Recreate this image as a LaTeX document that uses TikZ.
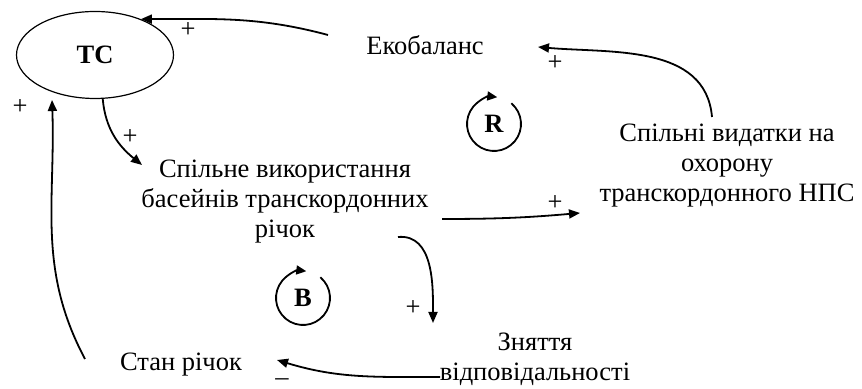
\documentclass[tikz,border=0pt]{standalone}
\usepackage{fontspec}
\setmainfont{Liberation Serif}
\usepackage{tikz}
\usetikzlibrary{arrows.meta,shapes.geometric,calc}

\begin{document}
\begin{tikzpicture}[x=0.5pt,y=0.5pt,
  t/.style={align=center,inner sep=0pt,font=\fontsize{13.25}{15}\selectfont},
  sgn/.style={inner sep=0pt,font=\fontsize{13.25}{15}\selectfont},
  loopsym/.style={inner sep=0pt,font=\fontsize{13.25}{15}\selectfont\bfseries},
  arrow/.style={-{Triangle[length=5.5pt,width=4.5pt]},line width=0.9pt},
  looparc/.style={-{Triangle[length=5pt,width=4.5pt]},line width=0.9pt}
]
  \useasboundingbox (0,0) rectangle (862,389);
  \node[ellipse,draw,line width=0.6pt,minimum width=78.5pt,minimum height=43.5pt,inner sep=0pt,
        font=\fontsize{13.25}{15}\selectfont\bfseries] (tc) at (95,334) {ТС};
  \node[t] (eko) at (425,344) {Екобаланс};
  \node[t] (vyd) at (727,223) {Спільні видатки на\\охорону\\транскордонного НПС};
  \node[t] (spil) at (285,187) {Спільне використання\\басейнів транскордонних\\річок};
  \node[t] (znyat) at (535,30) {Зняття\\відповідальності};
  \node[t] (stan) at (181,24) {Стан річок};
  % loops
  \node[loopsym] (r) at (494,265) {R};
  \node[loopsym] (b) at (303,91) {B};
  \draw[looparc] ($(r)+(50:27)$) arc[start angle=50,end angle=-277,radius=27];
  \draw[looparc] ($(b)+(50:27)$) arc[start angle=50,end angle=-277,radius=27];
  % links
  \draw[arrow] ($(eko)+(-97,10)$) to[out=165,in=0] (tc.38);
  \draw[arrow] ($(vyd)+(-15,49)$) to[out=95,in=-5] ($(eko)+(113,-2)$);
  \draw[arrow] (tc.-80) to[out=-85,in=141] ($(spil)+(-143,37)$);
  \draw[arrow] ($(spil)+(157,-17)$) to[out=0,in=185] ($(vyd)+(-147,-47)$);
  \draw[arrow] ($(spil)+(113,-35)$) to[out=5,in=90] ($(znyat)+(-102,36)$);
  \draw[arrow] ($(znyat)+(-95,-18)$) to[out=180,in=-17] ($(stan)+(96,5)$);
  \draw[arrow] ($(stan)+(-96,6)$) to[out=118,in=-88] ($(tc)+(-43,-45)$);
  % signs
  \node[sgn] (p1) at (188,359) {+};
  \node[sgn] (p2) at (555,326) {+};
  \node[sgn] (p3) at (130,252) {+};
  \node[sgn] (p4) at (555,186) {+};
  \node[sgn] (p5) at (413,81) {+};
  \node[sgn] (p6) at (20,282) {+};
  \node[sgn,text depth=0pt,anchor=base] (m1) at (282,3) {–};
\end{tikzpicture}
\end{document}
